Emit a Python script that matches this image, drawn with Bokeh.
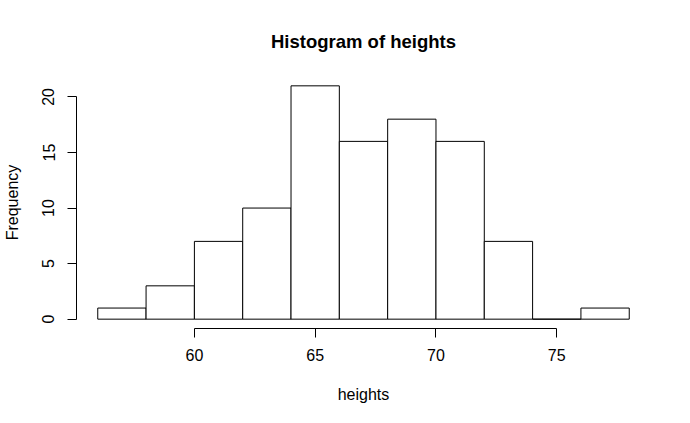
from bokeh.plotting import figure
from bokeh.models import Range1d, FixedTicker
from bokeh.embed import file_html
from bokeh.resources import INLINE

# Histogram data (bin edges and counts)
bin_left = [56, 58, 60, 62, 64, 66, 68, 70, 72, 74, 76]
bin_right = [58, 60, 62, 64, 66, 68, 70, 72, 74, 76, 78]
counts = [1, 3, 7, 10, 21, 16, 18, 16, 7, 0, 1]
x_ticks = [60, 65, 70, 75]
y_ticks = [0, 5, 10, 15, 20]

FONT = "Liberation Sans"

p = figure(frame_width=574, frame_height=252,
           min_border_left=76, min_border_right=32,
           min_border_top=76, min_border_bottom=80,
           x_range=Range1d(55.12, 78.88), y_range=Range1d(-0.84, 21.84),
           output_backend="svg", toolbar_location=None,
           title="Histogram of heights")

p.quad(left=bin_left, right=bin_right, bottom=0, top=counts,
       fill_color="white", line_color="black", line_width=1)

p.outline_line_color = None
p.xgrid.visible = False
p.ygrid.visible = False
p.background_fill_color = "white"
p.border_fill_color = "white"

p.title.align = "center"
p.title.text_font = FONT
p.title.text_font_size = "18.5px"
p.title.text_font_style = "bold"
p.title.text_color = "black"
p.title.standoff = 49

for ax in (p.xaxis[0], p.yaxis[0]):
    ax.axis_line_color = "black"
    ax.major_tick_line_color = "black"
    ax.minor_tick_line_color = None
    ax.major_tick_out = 9
    ax.major_tick_in = 0
    ax.major_label_text_font = FONT
    ax.major_label_text_font_size = "16px"
    ax.major_label_text_color = "black"
    ax.axis_label_text_font = FONT
    ax.axis_label_text_font_size = "16px"
    ax.axis_label_text_font_style = "normal"
    ax.axis_label_text_color = "black"

xa = p.xaxis[0]
xa.ticker = FixedTicker(ticks=x_ticks)
xa.bounds = (60, 75)
xa.axis_label = "heights"
xa.major_label_standoff = 11
xa.axis_label_standoff = 22

ya = p.yaxis[0]
ya.ticker = FixedTicker(ticks=y_ticks)
ya.bounds = (0, 20)
ya.axis_label = "Frequency"
ya.major_label_orientation = "vertical"
ya.major_label_standoff = 13
ya.axis_label_standoff = 19

open("out.html", "w").write(file_html(p, INLINE))
